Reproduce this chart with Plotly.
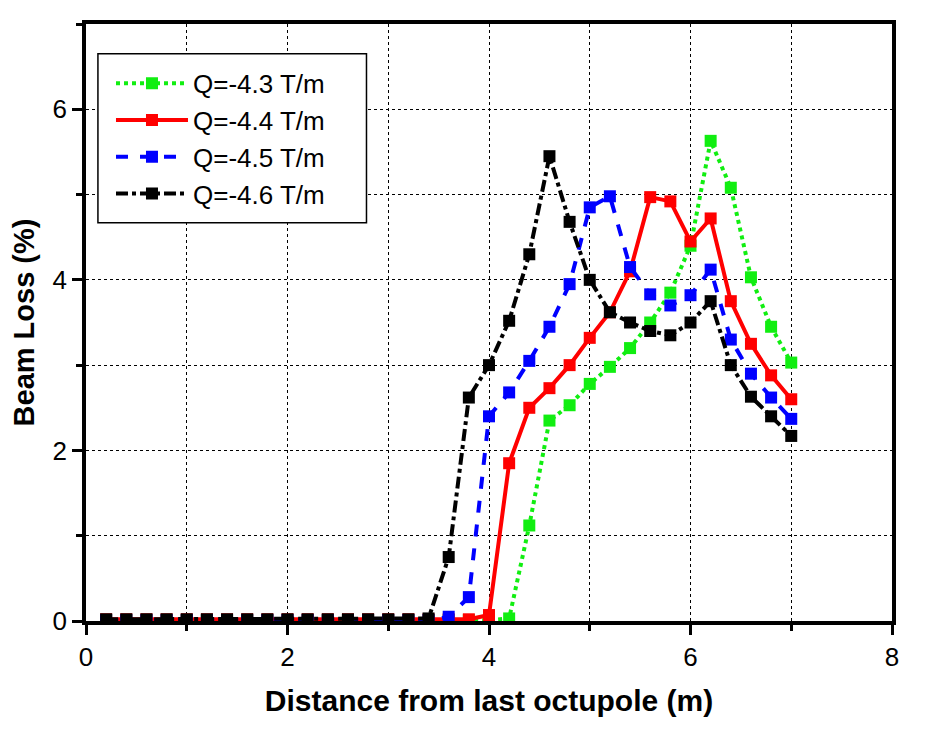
import plotly.graph_objects as go

x = [round(0.2 * i, 1) for i in range(1, 36)]

q43 = [0.01]*20 + [0.03, 1.12, 2.35, 2.53, 2.78, 2.98, 3.2, 3.5, 3.85, 4.4, 5.63, 5.08, 4.03, 3.45, 3.03]
q44 = [0.02]*19 + [0.07, 1.85, 2.5, 2.73, 3.0, 3.32, 3.62, 4.1, 4.97, 4.92, 4.45, 4.72, 3.75, 3.25, 2.88, 2.6]
q45 = [0.01]*17 + [0.05, 0.28, 2.4, 2.68, 3.05, 3.45, 3.95, 4.85, 4.98, 4.15, 3.83, 3.7, 3.82, 4.12, 3.3, 2.9, 2.62, 2.37]
q46 = [0.02]*16 + [0.03, 0.75, 2.62, 3.0, 3.52, 4.3, 5.45, 4.68, 4.0, 3.62, 3.5, 3.4, 3.35, 3.5, 3.75, 3.0, 2.63, 2.4, 2.17]

names = ["Q=-4.3 T/m", "Q=-4.4 T/m", "Q=-4.5 T/m", "Q=-4.6 T/m"]
colors = ["#11ee11", "#ff0000", "#0000ff", "#000000"]
dashes = ["dot", "solid", "dash", "dashdot"]
series = [q43, q44, q45, q46]

FONT = "Arial, Liberation Sans, sans-serif"

fig = go.Figure()
for ys, n, c, d in zip(series, names, colors, dashes):
    fig.add_trace(go.Scatter(
        x=x, y=ys, name=n, mode="lines+markers",
        line=dict(color=c, width=4, dash=d),
        marker=dict(symbol="square", size=12, color=c, line=dict(width=0)),
    ))

axis_common = dict(
    showline=True, linewidth=3.5, linecolor="black", mirror=True,
    ticks="outside", ticklen=10, tickwidth=3, tickcolor="black",
    showgrid=True, gridcolor="black", gridwidth=1, griddash="dot",
    zeroline=False,
    tickfont=dict(family=FONT, size=26, color="black"),
    minor=dict(dtick=1, ticks="outside", ticklen=6, tickwidth=2.5, tickcolor="black",
               showgrid=True, gridcolor="black", gridwidth=1, griddash="dot"),
)

# legend frame (paper coordinates of the plot area)
fig.add_shape(type="rect", xref="paper", yref="paper",
              x0=0.0148, x1=0.348, y0=0.667, y1=0.950,
              line=dict(color="black", width=1.5), fillcolor="white", layer="above")

fig.update_layout(
    width=936, height=733,
    margin=dict(l=74, r=52, t=12, b=120),
    paper_bgcolor="white", plot_bgcolor="white",
    font=dict(family=FONT, color="black"),
    xaxis=dict(range=[0, 8], dtick=2, tick0=0,
               title=dict(text="<b>Distance from last octupole (m)</b>",
                          font=dict(family=FONT, size=30, color="black"), standoff=20),
               **axis_common),
    yaxis=dict(range=[0, 7], dtick=2, tick0=0, tickvals=[0, 2, 4, 6],
               title=dict(text="<b>Beam Loss (%)</b>",
                          font=dict(family=FONT, size=29, color="black"), standoff=12),
               **axis_common),
    legend=dict(x=0.031, y=0.940, xanchor="left", yanchor="top",
                bgcolor="rgba(0,0,0,0)", borderwidth=0,
                font=dict(family=FONT, size=26, color="black"),
                itemwidth=72, tracegroupgap=0),
    showlegend=True,
)

fig.write_html("out.html")
